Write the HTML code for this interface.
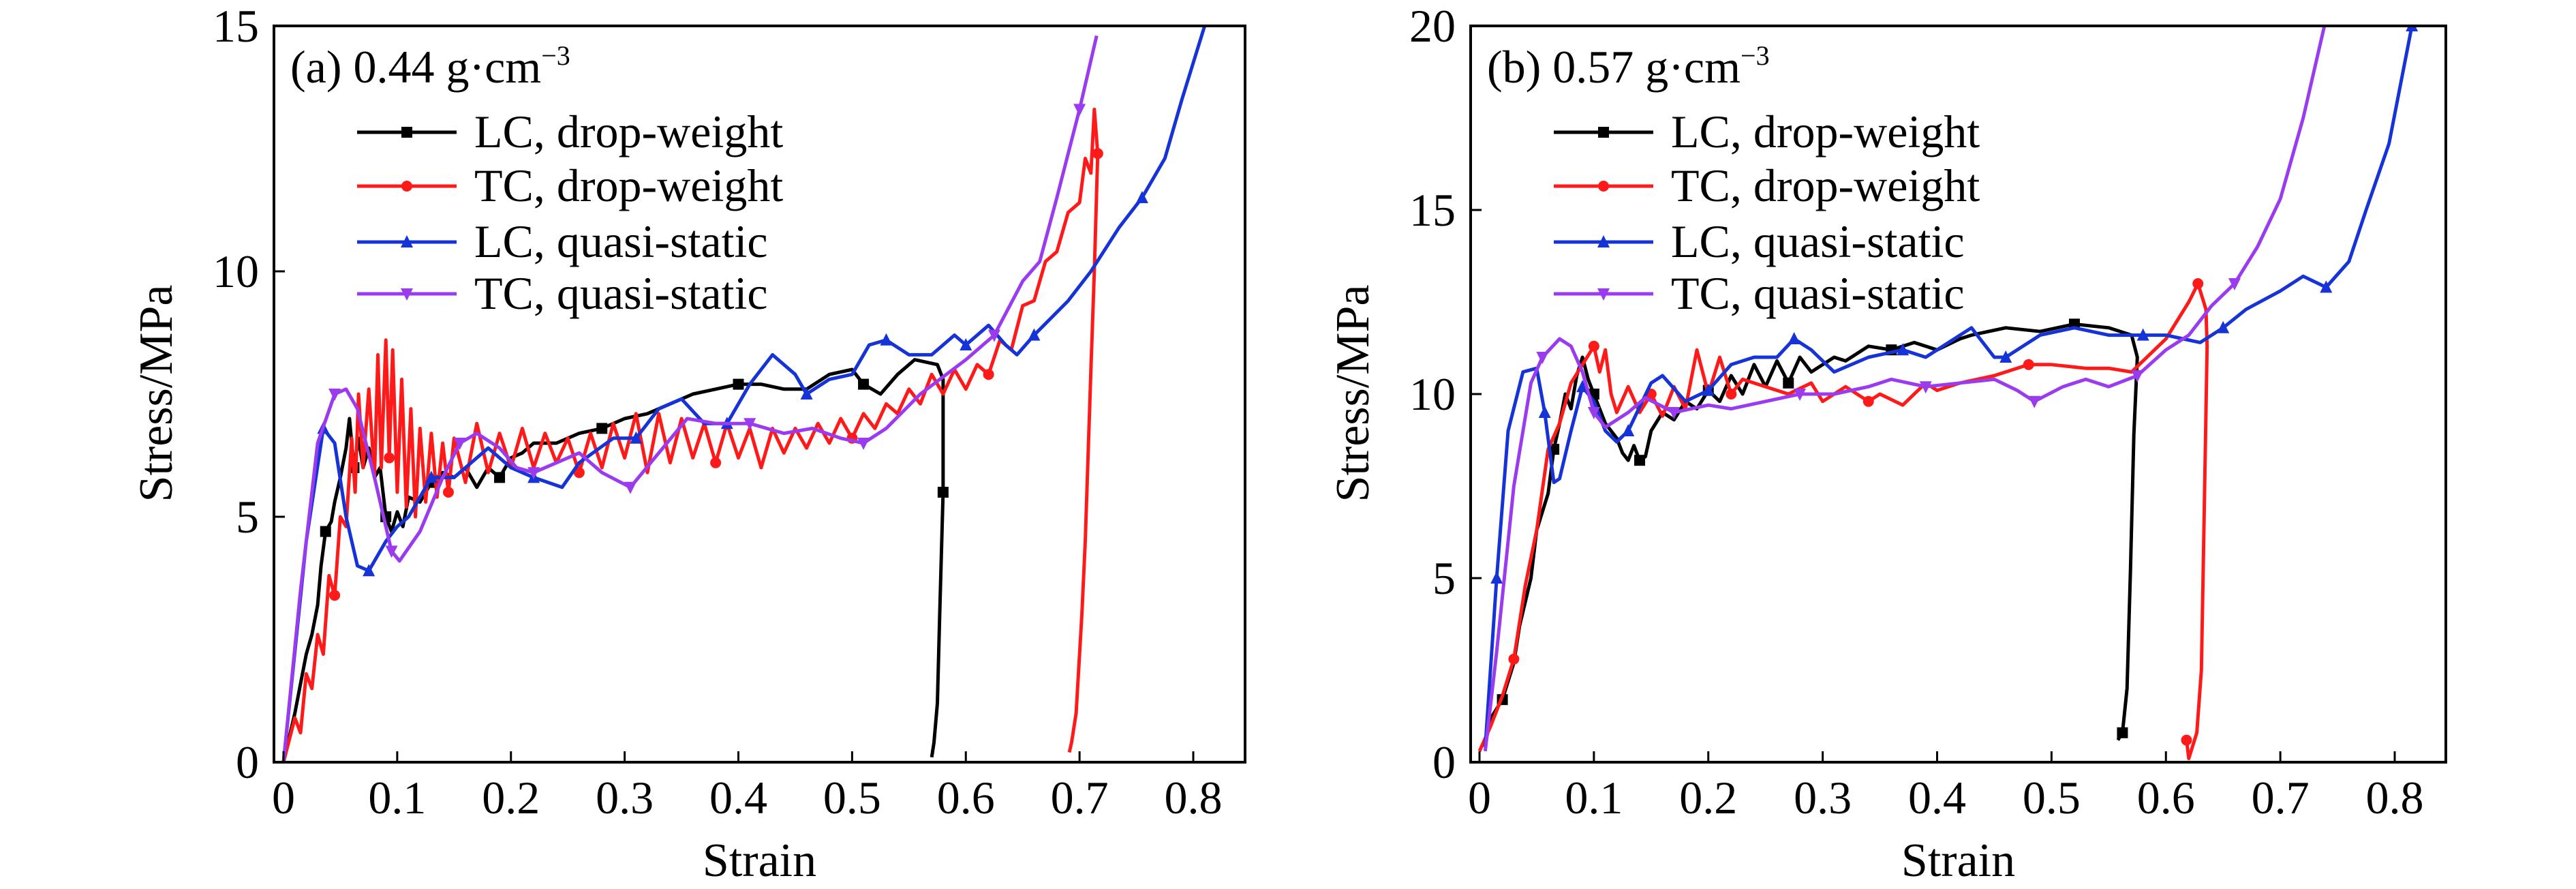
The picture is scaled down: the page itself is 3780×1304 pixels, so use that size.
<!DOCTYPE html>
<html><head><meta charset="utf-8"><style>
html,body{margin:0;padding:0;background:#fff;}
svg text{font-family:"Liberation Serif",serif;fill:#000;}
</style></head><body>
<svg id="fig" width="3780" height="1299" viewBox="0 0 3780 1299" xmlns="http://www.w3.org/2000/svg"></svg>
<script>
// ---------- Panel (a) data ----------
const xTicks=[0,0.1,0.2,0.3,0.4,0.5,0.6,0.7,0.8];
const xTickLabels=["0","0.1","0.2","0.3","0.4","0.5","0.6","0.7","0.8"];
const aYTicks=[0,5,10,15];
const bYTicks=[0,5,10,15,20];
const seriesNames=["LC, drop-weight","TC, drop-weight","LC, quasi-static","TC, quasi-static"];
const seriesColors=["#000000","#ff1a1a","#1533d6","#9b3bef"];

const aLCdX=[0,0.01,0.015,0.02,0.025,0.03,0.033,0.037,0.042,0.045,0.05,0.055,0.058,0.062,0.066,0.07,0.075,0.08,0.085,0.09,0.095,0.1,0.105,0.11,0.12,0.13,0.14,0.15,0.16,0.17,0.18,0.19,0.2,0.21,0.22,0.24,0.26,0.28,0.3,0.32,0.34,0.36,0.38,0.4,0.42,0.44,0.46,0.48,0.5,0.51,0.525,0.54,0.555,0.575,0.58,0.58,0.577,0.575,0.572,0.57];
const aLCdY=[0,1.0,1.6,2.2,2.6,3.2,4.0,4.7,4.9,5.3,5.8,6.4,7.0,6.0,6.6,6.0,6.4,5.8,6.0,5.0,4.7,5.1,4.8,5.4,5.3,5.7,5.9,5.8,6.0,5.6,6.0,5.8,6.2,6.3,6.5,6.5,6.7,6.8,7.0,7.1,7.3,7.5,7.6,7.7,7.7,7.6,7.6,7.9,8.0,7.7,7.5,7.9,8.2,8.1,7.8,5.5,3.0,1.2,0.4,0.1];
const aTCdX=[0,0.01,0.015,0.02,0.025,0.03,0.035,0.04,0.045,0.05,0.055,0.06,0.063,0.066,0.07,0.075,0.08,0.083,0.086,0.09,0.093,0.096,0.1,0.104,0.108,0.112,0.116,0.12,0.125,0.13,0.135,0.14,0.145,0.15,0.16,0.17,0.18,0.19,0.2,0.21,0.22,0.23,0.24,0.25,0.26,0.27,0.28,0.29,0.3,0.31,0.32,0.33,0.34,0.35,0.36,0.37,0.38,0.39,0.4,0.41,0.42,0.43,0.44,0.45,0.46,0.47,0.48,0.49,0.5,0.51,0.52,0.53,0.54,0.55,0.56,0.57,0.58,0.59,0.6,0.61,0.62,0.63,0.64,0.65,0.66,0.67,0.68,0.69,0.7,0.705,0.71,0.713,0.716,0.713,0.71,0.705,0.702,0.697,0.693,0.691];
const aTCdY=[0,0.9,0.6,1.8,1.5,2.6,2.2,3.8,3.4,5.0,4.8,6.6,5.5,7.5,6.0,7.6,5.8,8.3,6.0,8.6,6.2,8.4,5.5,7.8,5.2,7.2,5.0,6.8,5.3,6.7,5.4,6.5,5.5,6.6,5.7,6.9,5.9,6.7,6.0,6.8,6.0,6.7,6.1,6.6,5.9,6.7,6.0,6.9,6.2,7.1,5.9,7.1,6.1,7.0,6.2,6.9,6.1,6.9,6.2,6.8,6.0,6.8,6.3,6.8,6.4,6.9,6.5,7.0,6.6,7.1,6.8,7.3,7.1,7.6,7.3,7.9,7.5,8.0,7.6,8.1,7.9,8.6,8.4,9.3,9.4,10.2,10.4,11.2,11.4,12.3,12.0,13.3,12.4,10.0,8.0,4.5,3.0,1.0,0.4,0.2];
const aLCqX=[0,0.02,0.035,0.045,0.055,0.065,0.075,0.09,0.1,0.11,0.13,0.15,0.18,0.2,0.22,0.245,0.26,0.29,0.31,0.33,0.35,0.37,0.39,0.41,0.43,0.45,0.46,0.48,0.5,0.515,0.53,0.55,0.57,0.59,0.6,0.62,0.635,0.645,0.66,0.69,0.71,0.735,0.755,0.775,0.79,0.81];
const aLCqY=[0,4.5,6.8,6.5,5.0,4.0,3.9,4.5,4.8,5.0,5.8,5.8,6.4,6.0,5.8,5.6,6.1,6.6,6.6,7.2,7.4,6.9,6.9,7.7,8.3,7.9,7.5,7.8,7.9,8.5,8.6,8.3,8.3,8.7,8.5,8.9,8.5,8.3,8.7,9.4,10.0,10.9,11.5,12.3,13.5,15.0];
const aTCqX=[0,0.015,0.03,0.045,0.055,0.065,0.08,0.095,0.102,0.12,0.14,0.155,0.17,0.19,0.205,0.22,0.24,0.26,0.28,0.305,0.33,0.355,0.38,0.41,0.44,0.465,0.49,0.51,0.53,0.56,0.6,0.625,0.65,0.665,0.68,0.7,0.715];
const aTCqY=[0,3.5,6.5,7.5,7.6,7.2,5.8,4.3,4.1,4.7,5.8,6.5,6.7,6.4,6.0,5.9,6.1,6.3,5.9,5.6,6.3,7.0,6.9,6.9,6.7,6.8,6.6,6.5,6.8,7.5,8.2,8.7,9.8,10.2,11.5,13.3,14.8];

// ---------- Panel (b) data ----------
const bLCdX=[0.005,0.01,0.02,0.03,0.035,0.045,0.05,0.055,0.06,0.065,0.07,0.075,0.08,0.085,0.09,0.095,0.1,0.105,0.11,0.12,0.125,0.13,0.135,0.14,0.145,0.15,0.16,0.17,0.18,0.19,0.2,0.21,0.22,0.23,0.24,0.25,0.26,0.27,0.28,0.29,0.3,0.31,0.32,0.34,0.36,0.38,0.4,0.42,0.43,0.46,0.49,0.52,0.55,0.57,0.575,0.572,0.569,0.566,0.562,0.558];
const bLCdY=[0.5,1.2,1.7,2.7,3.7,5.0,6.3,6.8,7.3,8.5,9.2,10.0,9.6,10.5,11.0,10.4,10.0,9.6,9.2,8.8,8.4,8.2,8.6,8.2,8.3,9.0,9.5,9.3,9.8,9.6,10.1,9.8,10.5,10.0,10.8,10.2,10.9,10.3,11.0,10.6,10.8,11.0,10.9,11.3,11.2,11.4,11.2,11.5,11.6,11.8,11.7,11.9,11.8,11.6,11.0,8.9,5.2,2.0,0.8,0.6];
const bTCdX=[0,0.01,0.02,0.03,0.04,0.05,0.06,0.07,0.08,0.09,0.1,0.105,0.11,0.115,0.12,0.13,0.14,0.15,0.16,0.17,0.18,0.19,0.2,0.21,0.22,0.23,0.25,0.27,0.29,0.3,0.32,0.34,0.35,0.37,0.39,0.4,0.42,0.45,0.48,0.5,0.53,0.55,0.57,0.6,0.62,0.628,0.635,0.636,0.633,0.631,0.627,0.62,0.618];
const bTCdY=[0.3,1.0,1.8,2.8,4.8,6.3,8.5,9.2,10.3,10.8,11.3,10.6,11.2,10.0,9.5,10.2,9.5,10.0,9.4,10.2,9.6,11.2,10.0,11.0,10.0,10.4,10.2,10.0,10.3,9.8,10.2,9.8,10.0,9.7,10.3,10.1,10.3,10.5,10.8,10.8,10.7,10.7,10.6,11.5,12.5,13.0,12.3,11.3,5.9,2.5,0.8,0.1,0.6];
const bLCqX=[0.005,0.015,0.025,0.038,0.05,0.057,0.065,0.07,0.08,0.09,0.1,0.11,0.12,0.13,0.15,0.16,0.18,0.2,0.22,0.24,0.26,0.275,0.29,0.31,0.34,0.37,0.39,0.43,0.45,0.46,0.49,0.52,0.55,0.58,0.6,0.615,0.63,0.65,0.67,0.7,0.72,0.74,0.76,0.775,0.795,0.815];
const bLCqY=[0.4,5.0,9.0,10.6,10.7,9.5,7.6,7.7,9.0,10.2,9.8,9.0,8.7,9.0,10.3,10.5,9.8,10.1,10.8,11.0,11.0,11.5,11.2,10.6,11.0,11.2,11.0,11.8,11.0,11.0,11.6,11.8,11.6,11.6,11.6,11.5,11.4,11.8,12.3,12.8,13.2,12.9,13.6,15.0,16.8,20.0];
const bTCqX=[0.005,0.015,0.03,0.045,0.055,0.07,0.08,0.09,0.1,0.11,0.13,0.145,0.17,0.2,0.22,0.25,0.28,0.31,0.34,0.36,0.39,0.42,0.45,0.47,0.485,0.51,0.53,0.55,0.575,0.6,0.62,0.64,0.66,0.68,0.7,0.72,0.74];
const bTCqY=[0.3,3.0,7.5,10.3,11.0,11.5,11.3,10.6,9.5,9.1,9.5,9.9,9.5,9.7,9.6,9.8,10.0,10.0,10.2,10.4,10.2,10.3,10.4,10.1,9.8,10.2,10.4,10.2,10.5,11.2,11.6,12.4,13.0,14.0,15.3,17.5,20.2];

const NS="http://www.w3.org/2000/svg";
const svg=document.getElementById('fig');
function mk(tag,attrs,parent){const e=document.createElementNS(NS,tag);for(const k in attrs)e.setAttribute(k,attrs[k]);(parent||svg).appendChild(e);return e;}

function marker(g,type,x,y,color){
  let m;
  const s=8;
  if(type==='square') m=mk('rect',{x:x-s,y:y-s,width:2*s,height:2*s,fill:color},g);
  else if(type==='circle') m=mk('circle',{cx:x,cy:y,r:s,fill:color},g);
  else if(type==='up') m=mk('polygon',{points:`${x},${y-s-2} ${x-s-1},${y+s} ${x+s+1},${y+s}`,fill:color},g);
  else m=mk('polygon',{points:`${x},${y+s+2} ${x-s-1},${y-s} ${x+s+1},${y-s}`,fill:color},g);
  
  
}

const markerTypes=['square','circle','up','down'];

function panel(p){
  const g=mk('g',{});
  
  
  const X=v=>p.x0+(v-0)*(p.x08-p.x0)/0.8;
  const Y=v=>p.yb+(v)*(p.yt-p.yb)/p.ymax;
  const clip='clip-'+p.id;
  const defs=mk('defs',{},g);
  const cp=mk('clipPath',{id:clip},defs);
  mk('rect',{x:p.left,y:p.yt,width:p.right-p.left,height:p.yb-p.yt},cp);
  p.series.forEach((s,i)=>{
    const sg=mk('g',{'clip-path':`url(#${clip})`},g);
    
    
    const pts=s.x.map((v,j)=>X(v).toFixed(1)+','+Y(s.y[j]).toFixed(1)).join(' ');
    const pl=mk('polyline',{points:pts,fill:'none',stroke:seriesColors[i],'stroke-width':5,'stroke-linejoin':'round'},sg);
    
    
    for(let j=s.off;j<s.x.length;j+=s.step) marker(sg,markerTypes[i],X(s.x[j]),Y(s.y[j]),seriesColors[i]);
  });
  const fr=mk('rect',{x:p.left,y:p.yt,width:p.right-p.left,height:p.yb-p.yt,fill:'none',stroke:'#000','stroke-width':4},g);
  
  
  xTicks.forEach((t,i)=>{
    const x=X(t);
    const tk=mk('line',{x1:x,x2:x,y1:p.yb,y2:p.yb-16,stroke:'#000','stroke-width':3},g);
    
    
    const tl=mk('text',{x:x,y:1193,'font-size':68,'text-anchor':'middle'},g);
    tl.textContent=xTickLabels[i];
    
    
  });
  p.yTicks.forEach(t=>{
    const y=Y(t);
    const tk=mk('line',{x1:p.left,x2:p.left+16,y1:y,y2:y,stroke:'#000','stroke-width':3},g);
    
    
    const tl=mk('text',{x:p.left-22,y:y+23,'font-size':68,'text-anchor':'end'},g);
    tl.textContent=String(t);
    
    
  });
  const xl=mk('text',{x:(p.left+p.right)/2,y:1285,'font-size':70,'text-anchor':'middle'},g);
  xl.textContent='Strain';
  
  
  const yl=mk('text',{x:0,y:0,'font-size':70,'text-anchor':'middle',transform:`translate(${p.ylx},577) rotate(-90)`},g);
  yl.textContent='Stress/MPa';
  
  
  const ti=mk('text',{x:p.tx,y:121,'font-size':68},g);
  
  
  ti.textContent=p.title+' g·cm';
  const sup=mk('tspan',{dy:-26,'font-size':40},ti);
  sup.textContent='−3';
  const rows=[194,273,355,431];
  seriesNames.forEach((n,i)=>{
    const lg=mk('g',{},g);
    
    
    mk('line',{x1:p.lx,x2:p.lx+146,y1:rows[i],y2:rows[i],stroke:seriesColors[i],'stroke-width':5},lg);
    marker(lg,markerTypes[i],p.lx+73,rows[i],seriesColors[i]);
    const t=mk('text',{x:p.lx+172,y:rows[i]+22,'font-size':68},lg);
    t.textContent=n;
  });
}

panel({id:'a',name:'panel-a',left:402,right:1827,yt:38,yb:1118,x0:416,x08:1751,ymax:15,yTicks:aYTicks,ylx:252,tx:426,title:'(a) 0.44',lx:524,
  series:[{x:aLCdX,y:aLCdY,step:6,off:7},{x:aTCdX,y:aTCdY,step:12,off:8},{x:aLCqX,y:aLCqY,step:4,off:2},{x:aTCqX,y:aTCqY,step:4,off:3}]});
panel({id:'b',name:'panel-b',left:2158,right:3589,yt:38,yb:1118,x0:2171,x08:3514,ymax:20,yTicks:bYTicks,ylx:2008,tx:2182,title:'(b) 0.57',lx:2280,
  series:[{x:bLCdX,y:bLCdY,step:7,off:2},{x:bTCdX,y:bTCdY,step:7,off:3},{x:bLCqX,y:bLCqY,step:4,off:1},{x:bTCqX,y:bTCqY,step:4,off:4}]});
</script>
</body></html>
